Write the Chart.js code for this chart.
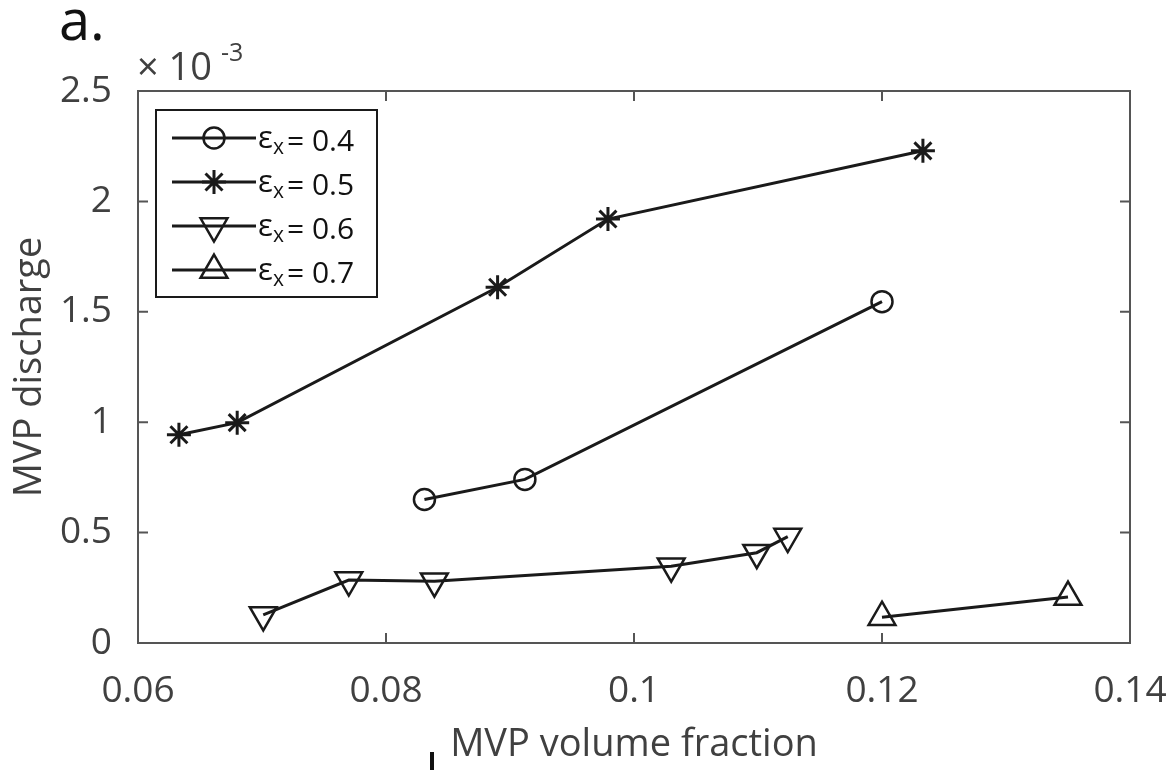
<!DOCTYPE html>
<html lang="en">
<head>
  <meta charset="UTF-8" />
  <script src="https://cdn.jsdelivr.net/npm/chart.js"></script>
  <title>MVP discharge vs volume fraction</title>
  <style>
    body { margin: 0; background: #fff; }
    #wrap { width: 1172px; height: 770px; }
  </style>
</head>
<body>
  <div id="wrap"><canvas id="grafico" width="1172" height="770"></canvas></div>
  <script>
    // x = MVP volume fraction, y = MVP discharge (x 10^-3)
    const eps04X = [0.0831, 0.0912, 0.1200];
    const eps04Y = [0.650, 0.741, 1.546];
    const eps05X = [0.0633, 0.0680, 0.0890, 0.0979, 0.1233];
    const eps05Y = [0.943, 0.998, 1.611, 1.920, 2.229];
    const eps06X = [0.0701, 0.0770, 0.0839, 0.1030, 0.1099, 0.1124];
    const eps06Y = [0.127, 0.285, 0.280, 0.348, 0.409, 0.482];
    const eps07X = [0.1200, 0.1350];
    const eps07Y = [0.117, 0.208];
    const xTicks = [0.06, 0.08, 0.1, 0.12, 0.14];
    const yTicks = [0, 0.5, 1, 1.5, 2, 2.5];
    const legendValues = ['0.4', '0.5', '0.6', '0.7'];

    const FONT = '"Open Sans", sans-serif';
    const INK = '#1a1a1a';
    const AXIS = '#404040';

    function serie(label, xs, ys, style, rot, radius, bw) {
      return {
        label: label,
        data: xs.map((x, i) => ({ x: x, y: ys[i] })),
        borderColor: INK,
        borderWidth: 3,
        fill: false,
        tension: 0,
        pointStyle: style,
        rotation: rot,
        pointRadius: radius,
        pointBorderWidth: bw,
        pointBorderColor: INK,
        pointBackgroundColor: 'rgba(0,0,0,0)'
      };
    }

    // caja con marcas hacia dentro en los cuatro lados
    const marco = {
      id: 'marco',
      afterDatasetsDraw(chart) {
        const { ctx, chartArea: a, scales: { x, y } } = chart;
        ctx.save();
        ctx.strokeStyle = '#555';
        ctx.lineWidth = 2;
        ctx.strokeRect(a.left, a.top, a.right - a.left, a.bottom - a.top);
        const tl = 10;
        ctx.beginPath();
        x.ticks.forEach(t => {
          const px = x.getPixelForValue(t.value);
          ctx.moveTo(px, a.bottom); ctx.lineTo(px, a.bottom - tl);
          ctx.moveTo(px, a.top); ctx.lineTo(px, a.top + tl);
        });
        y.ticks.forEach(t => {
          const py = y.getPixelForValue(t.value);
          ctx.moveTo(a.left, py); ctx.lineTo(a.left + tl, py);
          ctx.moveTo(a.right, py); ctx.lineTo(a.right - tl, py);
        });
        ctx.stroke();

        // multiplicador del eje y
        ctx.fillStyle = AXIS;
        ctx.textBaseline = 'alphabetic';
        ctx.textAlign = 'left';
        ctx.font = '38px ' + FONT;
        ctx.fillText('\u00d7 10', a.left - 1, 80);
        ctx.font = '25px ' + FONT;
        ctx.fillText('-3', 221, 61);

        // etiqueta del panel
        ctx.fillStyle = '#111';
        ctx.font = '56px ' + FONT;
        ctx.fillText('a.', 59, 40);
        ctx.fillRect(430, 752, 4, 18);
        ctx.restore();
      }
    };

    // leyenda dibujada a mano (subindice en epsilon)
    const leyenda = {
      id: 'leyenda',
      afterDraw(chart) {
        const ctx = chart.ctx;
        const bx = 156, by = 110, bw = 221, bh = 187;
        ctx.save();
        ctx.fillStyle = '#fff';
        ctx.fillRect(bx, by, bw, bh);
        ctx.strokeStyle = INK;
        ctx.lineWidth = 2;
        ctx.strokeRect(bx, by, bw, bh);
        chart.data.datasets.forEach((ds, i) => {
          const ry = 138 + i * 44;
          ctx.strokeStyle = INK;
          ctx.lineWidth = 3;
          ctx.beginPath();
          ctx.moveTo(172, ry); ctx.lineTo(256, ry);
          ctx.stroke();
          ctx.lineWidth = ds.pointBorderWidth;
          ctx.fillStyle = 'rgba(0,0,0,0)';
          Chart.helpers.drawPoint(ctx, {
            pointStyle: ds.pointStyle, rotation: ds.rotation,
            radius: ds.pointRadius, borderWidth: ds.pointBorderWidth
          }, 214, ry);
          ctx.fillStyle = '#111';
          ctx.textBaseline = 'middle';
          ctx.textAlign = 'left';
          ctx.font = '31px ' + FONT;
          ctx.fillText('\u03b5', 258, ry + 1);
          ctx.font = '21px ' + FONT;
          ctx.fillText('x', 273, ry + 10);
          ctx.font = '30px ' + FONT;
          ctx.fillText('= ' + legendValues[i], 287, ry + 4);
        });
        ctx.restore();
      }
    };

    const ctx = document.getElementById('grafico').getContext('2d');
    new Chart(ctx, {
      type: 'line',
      data: {
        datasets: [
          serie('0.4', eps04X, eps04Y, 'circle', 0, 10.5, 2.5),
          serie('0.5', eps05X, eps05Y, 'star', 0, 12, 3),
          serie('0.6', eps06X, eps06Y, 'triangle', 180, 15.5, 2.5),
          serie('0.7', eps07X, eps07Y, 'triangle', 0, 15.5, 2.5)
        ]
      },
      options: {
        responsive: false,
        animation: false,
        layout: { padding: { top: 91, right: 42, left: 0, bottom: 0 } },
        plugins: { legend: { display: false }, tooltip: { enabled: false } },
        scales: {
          x: {
            type: 'linear',
            min: 0.06,
            max: 0.14,
            afterBuildTicks: s => { s.ticks = xTicks.map(v => ({ value: v })); },
            afterFit: s => { s.height = 127; s.paddingLeft = 0; s.paddingRight = 0; },
            grid: { display: false, drawTicks: false },
            border: { display: false },
            ticks: {
              padding: 26,
              color: AXIS,
              font: { family: FONT, size: 37 },
              maxRotation: 0,
              callback: v => String(parseFloat(v.toFixed(2)))
            },
            title: {
              display: true,
              text: 'MVP volume fraction',
              color: AXIS,
              font: { family: FONT, size: 38 },
              padding: { top: 0, bottom: 2 }
            }
          },
          y: {
            min: 0,
            max: 2.5,
            afterBuildTicks: s => { s.ticks = yTicks.map(v => ({ value: v })); },
            afterFit: s => { s.width = 138; s.paddingTop = 0; s.paddingBottom = 0; },
            grid: { display: false, drawTicks: false },
            border: { display: false },
            ticks: {
              padding: 26,
              color: AXIS,
              font: { family: FONT, size: 37 },
              callback: v => String(v)
            },
            title: {
              display: true,
              text: 'MVP discharge',
              color: AXIS,
              font: { family: FONT, size: 38 },
              padding: { top: 7, bottom: 0 }
            }
          }
        }
      },
      plugins: [marco, leyenda]
    });
  </script>
</body>
</html>
